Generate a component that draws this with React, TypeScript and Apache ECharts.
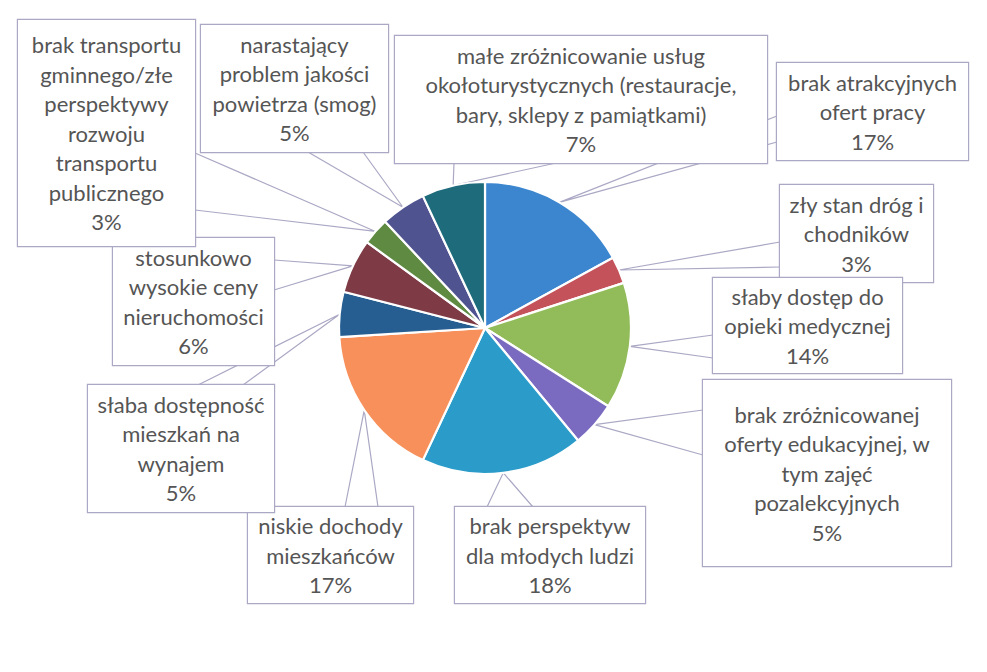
import React, { useEffect, useRef } from 'react';
import * as echarts from 'echarts';

// ---- data ----
const categories: string[] = [
  'brak atrakcyjnych\nofert pracy',
  'zły stan dróg i\nchodników',
  'słaby dostęp do\nopieki medycznej',
  'brak zróżnicowanej\noferty edukacyjnej, w\ntym zajęć\npozalekcyjnych',
  'brak perspektyw\ndla młodych ludzi',
  'niskie dochody\nmieszkańców',
  'słaba dostępność\nmieszkań na\nwynajem',
  'stosunkowo\nwysokie ceny\nnieruchomości',
  'brak transportu\ngminnego/złe\nperspektywy\nrozwoju\ntransportu\npublicznego',
  'narastający\nproblem jakości\npowietrza (smog)',
  'małe zróżnicowanie usług\nokołoturystycznych (restauracje,\nbary, sklepy z pamiątkami)',
];
const values: number[] = [17, 3, 14, 5, 18, 17, 5, 6, 3, 5, 7];
const colors: string[] = [
  '#3B86CF', '#C4525A', '#92BC5A', '#7B6BC0', '#2B9CC9', '#F7905A',
  '#265E92', '#7E3B46', '#5E8A42', '#4F5390', '#1E6B7C',
];

// ---- layout (callout boxes: x0, y0, x1, y1) ----
const boxes: number[][] = [
  [777, 63, 968, 160],
  [780, 185, 933, 282],
  [713, 278, 902, 373],
  [703, 380, 951, 566],
  [455, 507, 645, 603],
  [248, 507, 413, 603],
  [88, 385, 274, 512],
  [113, 238, 274, 365],
  [18, 20, 195, 246],
  [201, 25, 388, 152],
  [395, 36, 767, 163],
];
// wedge base points on the box edge: ax, ay, bx, by
const wedgeBases: number[][] = [
  [777, 116, 777, 142],
  [780, 242, 780, 267],
  [713, 335, 713, 358],
  [703, 410, 703, 455],
  [487, 507, 533, 507],
  [345, 507, 378, 507],
  [198, 385, 243, 385],
  [274, 260, 274, 290],
  [195, 153, 195, 210],
  [308, 152, 363, 152],
  [454, 163, 556, 163],
];

const LINE_H = 29.5;
const LINE_COLOR = '#AAA8C4';
const TEXT_COLOR = '#555555';

export default function App() {
  const ref = useRef<HTMLDivElement>(null);
  useEffect(() => {
    if (!ref.current) return;
    const chart = echarts.init(ref.current, null, { renderer: 'svg' });
    const data = categories.map((name, i) => {
      const [x0, y0, x1, y1] = boxes[i];
      const n = name.split('\n').length + 1;
      const pad = Math.max(0, (y1 - y0 - n * LINE_H) / 2);
      return {
        name,
        value: values[i],
        itemStyle: { color: colors[i] },
        label: { width: x1 - x0, padding: [pad, 0, pad, 0] },
      };
    });
    chart.setOption({
      animation: false,
      backgroundColor: '#ffffff',
      series: [
        {
          type: 'pie',
          center: [485, 328],
          radius: 146,
          startAngle: 90,
          clockwise: true,
          avoidLabelOverlap: false,
          emphasis: { disabled: true },
          itemStyle: { borderColor: '#ffffff', borderWidth: 2.2 },
          label: {
            show: true,
            position: 'outside',
            formatter: (p: any) => `${p.name}\n${p.value}%`,
            color: TEXT_COLOR,
            fontFamily: 'Lato',
            fontSize: 22,
            lineHeight: LINE_H,
            backgroundColor: '#ffffff',
            borderColor: LINE_COLOR,
            borderWidth: 1.2,
            overflow: 'none',
            align: 'center',
          },
          labelLine: {
            show: true,
            length: 10,
            length2: 10,
            lineStyle: { color: LINE_COLOR, width: 1.2 },
          },
          labelLayout: (params: any) => {
            const i = params.dataIndex;
            const [x0, y0, x1, y1] = boxes[i];
            const [ax, ay, bx, by] = wedgeBases[i];
            const tip = params.labelLinePoints ? params.labelLinePoints[0] : [485, 328];
            return {
              x: (x0 + x1) / 2,
              y: (y0 + y1) / 2,
              align: 'center',
              verticalAlign: 'middle',
              labelLinePoints: [[ax, ay], [tip[0], tip[1]], [bx, by]],
            };
          },
          data,
        },
      ],
    });
    return () => chart.dispose();
  }, []);
  return (
    <div
      ref={ref}
      style={{ position: 'fixed', left: 0, top: 0, width: 987, height: 672, background: '#fff' }}
    />
  );
}
